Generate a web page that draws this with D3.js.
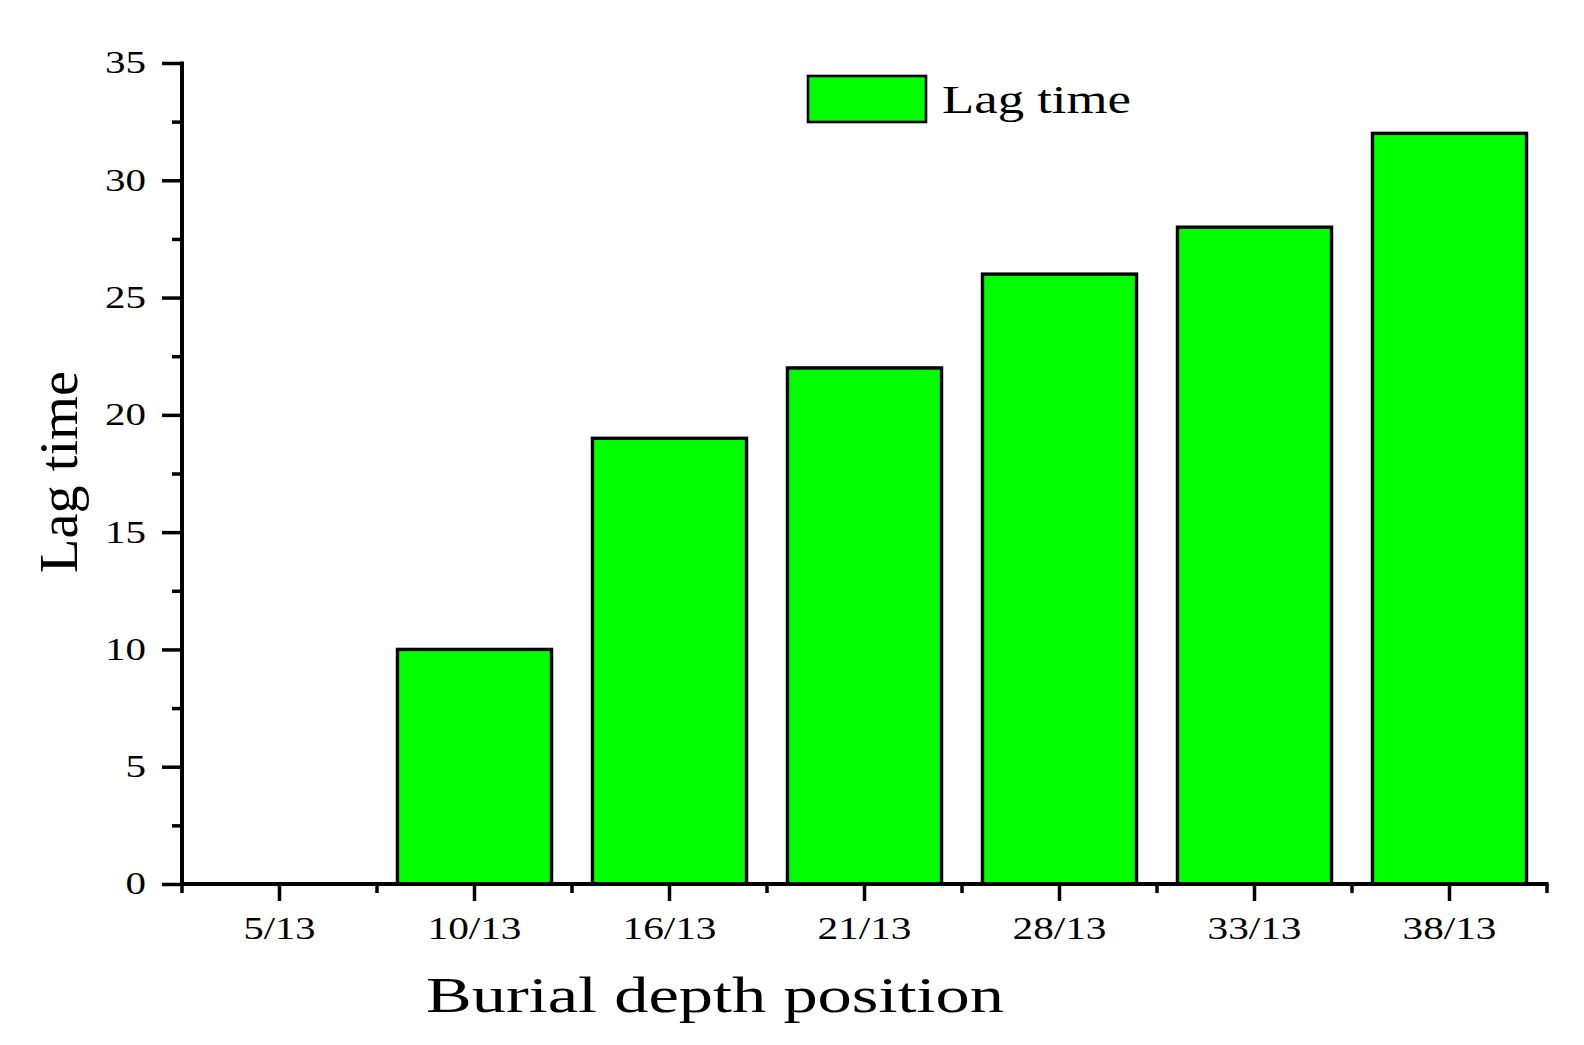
<!DOCTYPE html>
<html>
<head>
<meta charset="utf-8">
<script src="https://cdn.jsdelivr.net/npm/d3@7"></script>
<style>
  html, body { margin: 0; padding: 0; background: #fff; }
  svg { display: block; }
  text { font-family: "Liberation Serif", "Times New Roman", serif; fill: #000; }
</style>
</head>
<body>
<svg id="chart" width="1584" height="1045"></svg>
<script>
// ---- data ----
const categories = ["5/13", "10/13", "16/13", "21/13", "28/13", "33/13", "38/13"];
const lagTime = [0, 10, 19, 22, 26, 28, 32];
const yMajorTicks = [0, 5, 10, 15, 20, 25, 30, 35];
const yMinorTicks = [2.5, 7.5, 12.5, 17.5, 22.5, 27.5, 32.5];
const seriesName = "Lag time";
const xTitle = "Burial depth position";
const yTitle = "Lag time";

// ---- layout ----
const mLeft = 182, mRight = 1547, mTop = 63, mBottom = 884;
const svg = d3.select("#chart");

const x = d3.scaleBand().domain(categories).range([mLeft, mRight]).padding(0);
const y = d3.scaleLinear().domain([0, 35]).range([mBottom, mTop]);

const green = "#00ff00";
const barW = x.bandwidth() * 0.79;

// bars
svg.append("g").selectAll("rect")
  .data(categories.map((c, i) => ({ c, v: lagTime[i] })).filter(d => d.v > 0))
  .join("rect")
  .attr("x", d => x(d.c) + (x.bandwidth() - barW) / 2)
  .attr("y", d => y(d.v))
  .attr("width", barW)
  .attr("height", d => y(0) - y(d.v))
  .attr("fill", green)
  .attr("stroke", "#000")
  .attr("stroke-width", 3.4);

// Y axis: major ticks
const yMaj = svg.append("g").attr("transform", `translate(${mLeft},0)`)
  .call(d3.axisLeft(y).tickValues(yMajorTicks).tickSize(20).tickPadding(36).tickFormat(d3.format("d")));
yMaj.select(".domain").remove();
yMaj.selectAll(".tick line").attr("stroke", "#000").attr("stroke-width", 3.5);
yMaj.selectAll(".tick text")
  .attr("font-size", 31)
  .attr("dy", "0.32em")
  .attr("x", -36)
  .attr("textLength", d => String(d).length * 20.5)
  .attr("lengthAdjust", "spacingAndGlyphs");

// Y axis: minor ticks
const yMin = svg.append("g").attr("transform", `translate(${mLeft},0)`)
  .call(d3.axisLeft(y).tickValues(yMinorTicks).tickSize(10).tickFormat(""));
yMin.select(".domain").remove();
yMin.selectAll(".tick line").attr("stroke", "#000").attr("stroke-width", 3.5);

// X axis: major ticks at category centers
const xMaj = svg.append("g").attr("transform", `translate(0,${mBottom})`)
  .call(d3.axisBottom(x).tickSize(17).tickPadding(0));
xMaj.select(".domain").remove();
xMaj.selectAll(".tick line").attr("stroke", "#000").attr("stroke-width", 3.5);
xMaj.selectAll(".tick text")
  .attr("font-size", 32)
  .attr("y", 55)
  .attr("dy", 0)
  .attr("textLength", d => d.length === 4 ? 72 : 94)
  .attr("lengthAdjust", "spacingAndGlyphs");

// X axis: minor ticks at band edges
const edges = categories.map(c => x(c)).concat([x(categories[categories.length - 1]) + x.bandwidth()]);
svg.append("g").selectAll("line")
  .data(edges)
  .join("line")
  .attr("x1", d => d).attr("x2", d => d)
  .attr("y1", mBottom).attr("y2", mBottom + 9)
  .attr("stroke", "#000").attr("stroke-width", 3.5);

// axis lines
svg.append("line")
  .attr("x1", mLeft).attr("x2", mLeft)
  .attr("y1", mTop - 1.5).attr("y2", mBottom + 1.5)
  .attr("stroke", "#000").attr("stroke-width", 4);
svg.append("line")
  .attr("x1", mLeft).attr("x2", mRight + 1.5)
  .attr("y1", mBottom).attr("y2", mBottom)
  .attr("stroke", "#000").attr("stroke-width", 4);

// axis titles
svg.append("text")
  .attr("x", 715).attr("y", 1012)
  .attr("text-anchor", "middle")
  .attr("font-size", 50)
  .attr("textLength", 578)
  .attr("lengthAdjust", "spacingAndGlyphs")
  .text(xTitle);

svg.append("text")
  .attr("transform", `translate(77,472) rotate(-90)`)
  .attr("text-anchor", "middle")
  .attr("font-size", 55)
  .attr("textLength", 202)
  .attr("lengthAdjust", "spacingAndGlyphs")
  .text(yTitle);

// legend
const lg = svg.append("g");
lg.append("rect")
  .attr("x", 808).attr("y", 76)
  .attr("width", 118).attr("height", 46)
  .attr("fill", green)
  .attr("stroke", "#000")
  .attr("stroke-width", 2.6);
lg.append("text")
  .attr("x", 942).attr("y", 113)
  .attr("font-size", 41)
  .attr("textLength", 189)
  .attr("lengthAdjust", "spacingAndGlyphs")
  .text(seriesName);
</script>
</body>
</html>
